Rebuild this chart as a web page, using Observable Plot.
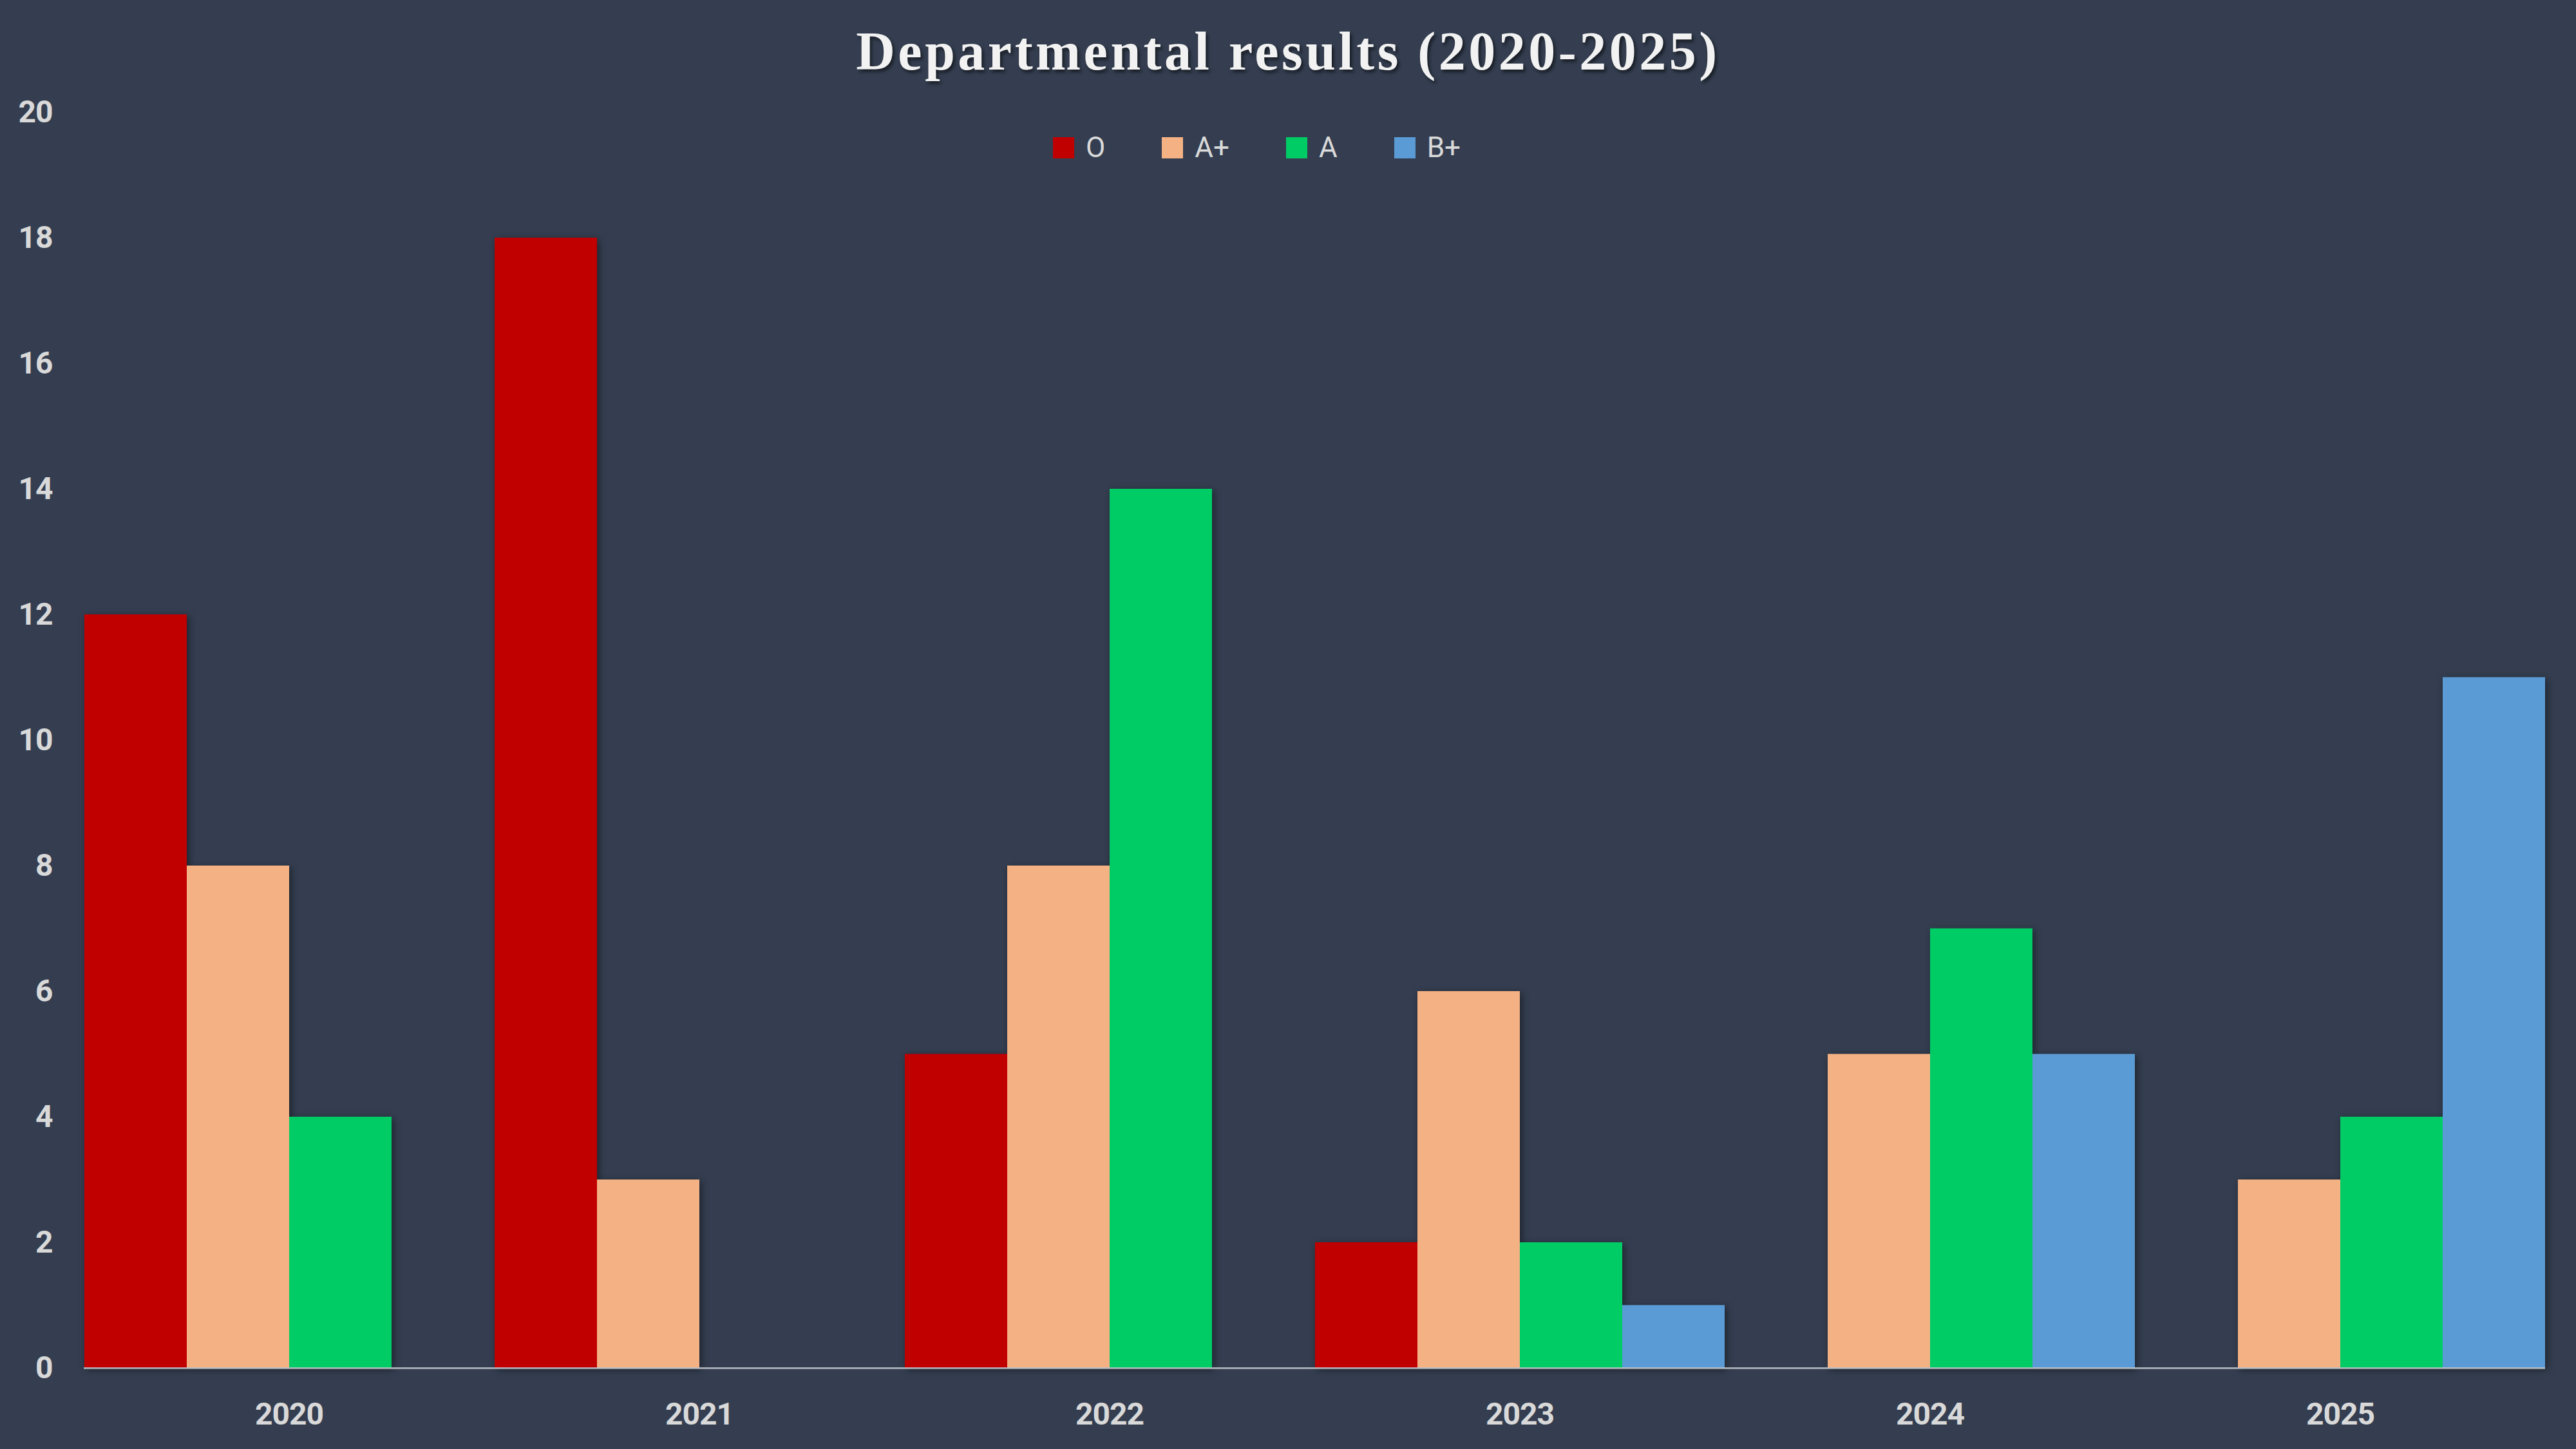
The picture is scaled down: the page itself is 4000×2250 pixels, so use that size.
<!DOCTYPE html>
<html>
<head>
<meta charset="utf-8">
<script src="https://cdn.jsdelivr.net/npm/d3@7"></script>
<script src="https://cdn.jsdelivr.net/npm/@observablehq/plot@0.6"></script>
<style>
html, body { margin: 0; padding: 0; background: #343e50; }
#wrap { position: relative; width: 4000px; height: 2250px; background: #343e50; overflow: hidden; }
#title { position: absolute; left: 0; top: 38px; width: 4000px; text-align: center;
  font-family: "Liberation Serif", "Times New Roman", serif; font-weight: bold; font-size: 84px;
  line-height: 83px; letter-spacing: 4.5px; color: #f2f2f2; text-shadow: 3px 4px 5px rgba(0,0,0,0.55); }
#legend { position: absolute; left: 1635px; top: 207px; height: 45px; display: flex; gap: 88px; align-items: center; }
.item { display: flex; align-items: center; gap: 18px; }
.sw { width: 33px; height: 33px; }
.lab { font-family: Roboto, "Liberation Sans", sans-serif; font-size: 44px; line-height: 45px; color: #d9d9d9; }
#chart { position: absolute; left: 0; top: 0; }
</style>
</head>
<body>
<div id="wrap">
  <div id="chart"></div>
  <div id="title">Departmental results (2020-2025)</div>
  <div id="legend"></div>
</div>
<script>
const years = ["2020", "2021", "2022", "2023", "2024", "2025"];
const grades = ["O", "A+", "A", "B+"];
const valuesO  = [12, 18, 5, 2, 0, 0];
const valuesAp = [8, 3, 8, 6, 5, 3];
const valuesA  = [4, 0, 14, 2, 7, 4];
const valuesBp = [0, 0, 0, 1, 5, 11];
const gradeColors = ["#c00000", "#f4b183", "#00cc66", "#5b9bd5"];
const yTicks = [0, 2, 4, 6, 8, 10, 12, 14, 16, 18, 20];

const series = [valuesO, valuesAp, valuesA, valuesBp];
const data = [];
years.forEach((yr, i) => grades.forEach((g, j) => data.push({year: yr, grade: g, value: series[j][i]})));

const fontStack = 'Roboto, "Liberation Sans", sans-serif';

const chart = Plot.plot({
  width: 4000,
  height: 2250,
  marginTop: 174,
  marginBottom: 126,
  marginLeft: 127,
  marginRight: 46,
  style: { background: "transparent", color: "#d9d9d9", fontFamily: fontStack, fontSize: "48px", fontWeight: "bold", letterSpacing: "-1px" },
  fx: { domain: years, padding: 0, label: null },
  x: { domain: grades, padding: 0, axis: null },
  y: { domain: [0, 20], label: null },
  color: { domain: grades, range: gradeColors },
  marks: [
    Plot.axisY({ ticks: yTicks, tickSize: 0, tickPadding: 49, label: null, fill: "#d9d9d9" }),
    Plot.axisFx({ anchor: "bottom", tickSize: 0, tickPadding: 53, label: null, fill: "#d9d9d9" }),
    Plot.barY(data.filter(d => d.value > 0), { fx: "year", x: "grade", y: "value", fill: "grade" }),
    Plot.ruleY([0], { stroke: "#c8ccd2", strokeOpacity: 0.75, strokeWidth: 3 })
  ]
});
document.getElementById("chart").appendChild(chart);
chart.querySelectorAll('g[aria-label="bar"]').forEach(g => {
  g.style.filter = "drop-shadow(3px 3px 6px rgba(0,0,0,0.45))";
});

const legend = document.getElementById("legend");
grades.forEach((g, j) => {
  const item = document.createElement("div");
  item.className = "item";
  const sw = document.createElement("div");
  sw.className = "sw";
  sw.style.background = gradeColors[j];
  const lab = document.createElement("div");
  lab.className = "lab";
  lab.textContent = g;
  item.appendChild(sw);
  item.appendChild(lab);
  legend.appendChild(item);
});
</script>
</body>
</html>
